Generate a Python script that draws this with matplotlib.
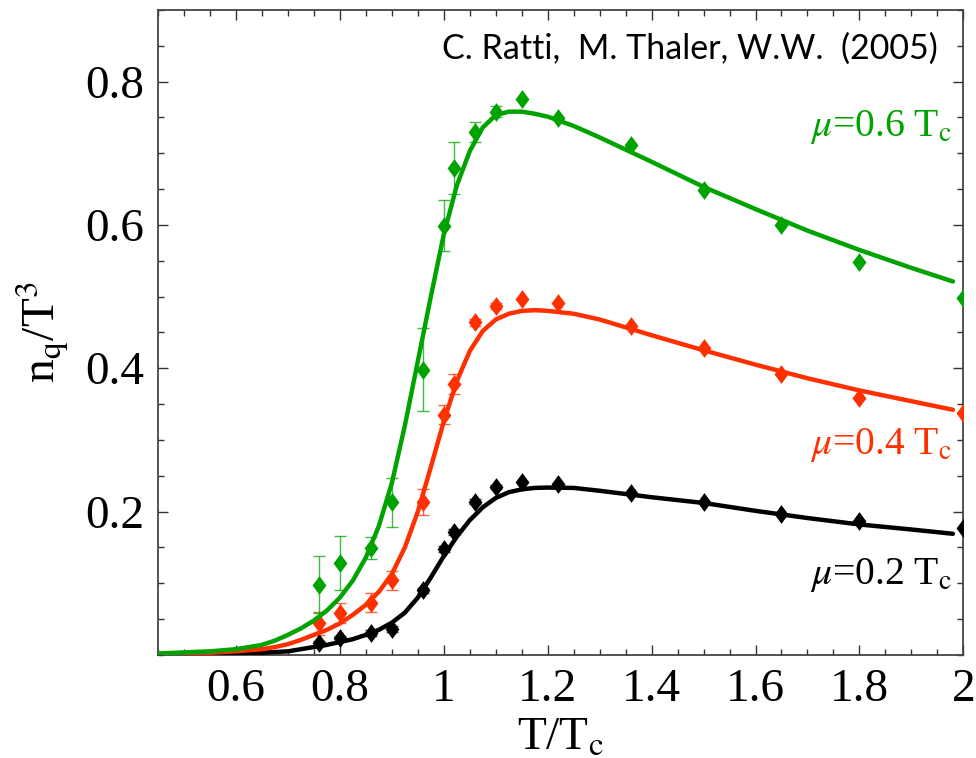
import matplotlib.pyplot as plt
from matplotlib.ticker import MultipleLocator

plt.rcParams['mathtext.fontset'] = 'stix'
plt.rcParams['font.family'] = ['Liberation Serif', 'DejaVu Serif']

# lattice data points (T/Tc)
t_data = [0.76, 0.80, 0.86, 0.90, 0.96, 1.00, 1.02, 1.06, 1.10, 1.15, 1.22, 1.36, 1.50, 1.65, 1.80, 2.00]

nq_06 = [0.098, 0.128, 0.149, 0.213, 0.398, 0.599, 0.679, 0.729, 0.758, 0.775, 0.749, 0.712, 0.649, 0.600, 0.548, 0.498]
err_06 = [0.040, 0.038, 0.015, 0.034, 0.058, 0.036, 0.036, 0.014, 0.008, 0, 0, 0, 0, 0, 0, 0]

nq_04 = [0.044, 0.058, 0.073, 0.104, 0.213, 0.335, 0.378, 0.464, 0.487, 0.497, 0.491, 0.459, 0.428, 0.392, 0.358, 0.338]
err_04 = [0.016, 0.014, 0.013, 0.013, 0.018, 0.013, 0.014, 0.005, 0.004, 0, 0, 0, 0, 0, 0, 0]

nq_02 = [0.016, 0.023, 0.031, 0.036, 0.090, 0.148, 0.171, 0.214, 0.234, 0.241, 0.239, 0.226, 0.214, 0.196, 0.187, 0.177]
err_02 = [0.004, 0.004, 0.004, 0.004, 0.004, 0.004, 0.004, 0.003, 0.003, 0, 0, 0, 0, 0, 0, 0]

# model curves
t_fit = [0.45, 0.55, 0.60, 0.65, 0.675, 0.70, 0.725, 0.75, 0.775, 0.80, 0.825, 0.85, 0.875, 0.90, 0.925, 0.95, 0.975,
         1.00, 1.025, 1.05, 1.075, 1.10, 1.125, 1.15, 1.175, 1.20, 1.25, 1.30, 1.40,
         1.50, 1.60, 1.70, 1.80, 1.90, 1.98]
fit_06 = [0.002, 0.005, 0.008, 0.014, 0.020, 0.028, 0.037, 0.048, 0.062, 0.080, 0.104, 0.136, 0.180, 0.240, 0.320, 0.410, 0.500,
          0.587, 0.655, 0.703, 0.736, 0.753, 0.758, 0.758, 0.755, 0.751, 0.738, 0.722, 0.688,
          0.653, 0.622, 0.592, 0.565, 0.540, 0.521]
fit_04 = [0.001, 0.003, 0.005, 0.008, 0.011, 0.015, 0.021, 0.028, 0.035, 0.044, 0.056, 0.070, 0.088, 0.113, 0.150, 0.200, 0.262,
          0.326, 0.382, 0.424, 0.452, 0.468, 0.476, 0.480, 0.481, 0.480, 0.476, 0.468, 0.446,
          0.425, 0.405, 0.386, 0.369, 0.354, 0.342]
fit_02 = [0.0005, 0.001, 0.002, 0.003, 0.004, 0.005, 0.008, 0.011, 0.014, 0.018, 0.022, 0.028, 0.035, 0.045, 0.059, 0.080, 0.108,
          0.138, 0.165, 0.188, 0.206, 0.219, 0.227, 0.231, 0.233, 0.2335, 0.233, 0.229, 0.220,
          0.212, 0.201, 0.191, 0.182, 0.175, 0.169]

green = '#00a300'
red = '#ff3000'
diamond = [(0, 1.15), (0.85, 0), (0, -1.15), (-0.85, 0), (0, 1.15)]

fig = plt.figure(figsize=(9.76, 7.58), dpi=100)
ax = fig.add_axes([0.162, 0.136, 0.825, 0.851])

for y, e, f, c in [(nq_02, err_02, fit_02, 'black'),
                   (nq_04, err_04, fit_04, red),
                   (nq_06, err_06, fit_06, green)]:
    ax.errorbar(t_data, y, yerr=e, fmt='none', ecolor=c, elinewidth=1.0,
                capsize=4, capthick=1.0, alpha=0.75, zorder=2)
    ax.plot(t_data, y, linestyle='none', marker=diamond, color=c,
            markersize=13.5, markeredgewidth=0, zorder=3)
    ax.plot(t_fit, f, '-', color=c, lw=3.2, solid_capstyle='round', zorder=4)

ax.set_xlim(0.45, 2.0)
ax.set_ylim(0, 0.9)
ax.xaxis.set_minor_locator(MultipleLocator(0.05))
ax.yaxis.set_minor_locator(MultipleLocator(0.05))
ax.set_xticks([0.6, 0.8, 1.0, 1.2, 1.4, 1.6, 1.8, 2.0])
ax.set_xticklabels(['0.6', '0.8', '1', '1.2', '1.4', '1.6', '1.8', '2'])
ax.set_yticks([0.2, 0.4, 0.6, 0.8])
ax.set_yticklabels(['0.2', '0.4', '0.6', '0.8'])

ax.tick_params(which='both', direction='in', top=True, right=True,
               labelsize=34, color='#333333', width=1.0)
ax.tick_params(which='major', length=7, pad=10)
ax.tick_params(which='minor', length=4)
for s in ax.spines.values():
    s.set_linewidth(1.3)
    s.set_color('#444444')

ax.set_xlabel('T/T$_\\mathrm{c}$', fontsize=34, labelpad=4)
ax.set_ylabel('n$_\\mathrm{q}$/T$^3$', fontsize=34, labelpad=10)

ax.text(0.968, 0.965, 'C. Ratti,  M. Thaler, W.W.  (2005)', transform=ax.transAxes,
        ha='right', va='top', fontsize=24.5, family='Lato')
ax.text(1.978, 0.737, '$\\mu$=0.6 T$_\\mathrm{c}$', color=green, fontsize=28.5, ha='right', va='center')
ax.text(1.978, 0.293, '$\\mu$=0.4 T$_\\mathrm{c}$', color=red, fontsize=28.5, ha='right', va='center')
ax.text(1.978, 0.111, '$\\mu$=0.2 T$_\\mathrm{c}$', color='black', fontsize=28.5, ha='right', va='center')

fig.savefig('out.png', dpi=100)
